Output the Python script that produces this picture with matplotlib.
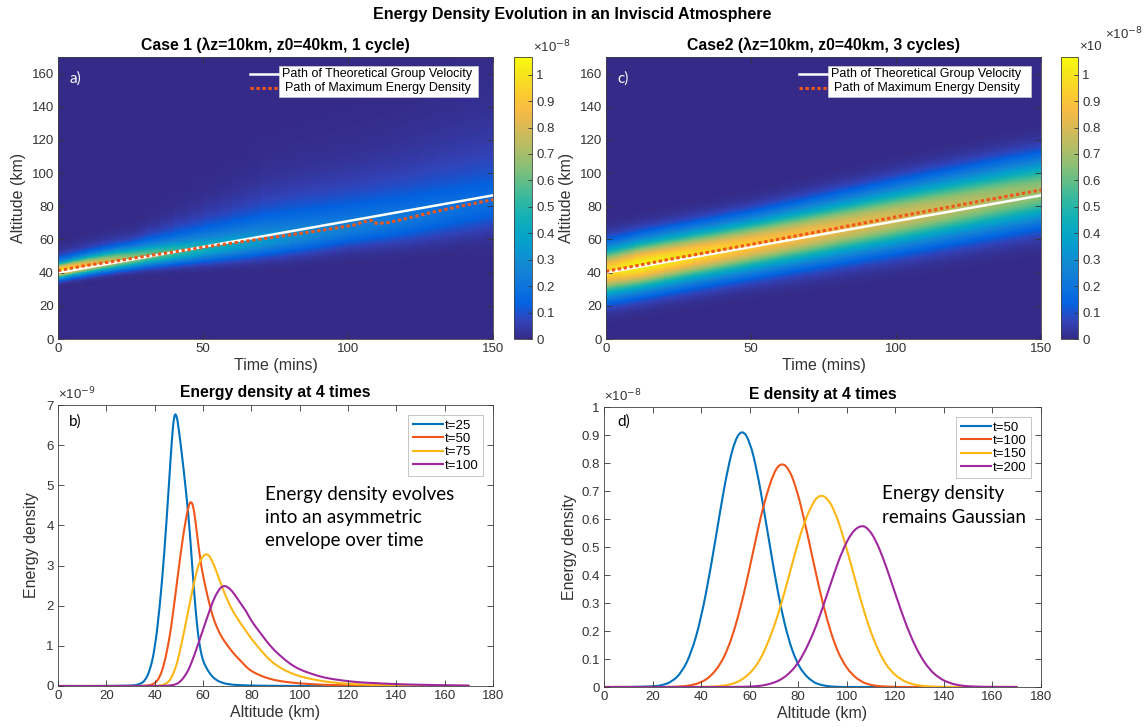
import numpy as np
import matplotlib
matplotlib.use("Agg")
import matplotlib.pyplot as plt
from matplotlib.colors import LinearSegmentedColormap
from matplotlib.patches import Rectangle, PathPatch
from matplotlib.path import Path
from matplotlib.lines import Line2D

# ------------------------------------------------------------------ data
# Panel a (case 1): envelope of the energy density read every 5-10 minutes
c1_time = [0, 5, 10, 15, 20, 25, 30, 40, 50, 60, 70, 80, 90, 100, 110, 120, 130, 140, 150]
c1_center = [41.2, 42.9, 44.4, 45.8, 47.2, 48.3, 49.9, 52.5, 55.1, 57.6, 60.1, 62.6, 65.2, 68.1,
             70.7, 73.5, 77.0, 80.6, 84.2]
c1_peak = [1.05, 0.96, 0.88, 0.81, 0.745, 0.683, 0.635, 0.542, 0.461, 0.407, 0.356, 0.313, 0.28,
           0.251, 0.232, 0.215, 0.2, 0.187, 0.175]
c1_width_low = [3.0, 3.1, 3.2, 3.3, 3.45, 3.57, 3.8, 4.5, 5.2, 5.9, 6.5, 7.0, 7.4, 7.8, 8.6, 9.4,
                10.2, 11.0, 12.0]
c1_width_high = [3.4, 3.9, 4.4, 4.8, 5.1, 5.3, 5.3, 5.2, 5.2, 5.9, 6.8, 7.6, 8.3, 9.0, 9.6, 10.3,
                 11.0, 11.5, 12.0]
c1_tail = [3.0, 3.1, 3.3, 3.5, 3.7, 3.8, 5.0, 7.0, 9.0, 11.0, 13.5, 15.0, 16.0, 17.0, 18.5, 20.0,
           22.0, 23.5, 25.0]

# Panel c (case 2): Gaussian envelope read every 10 minutes
c2_time = [0, 10, 20, 30, 40, 50, 60, 70, 80, 90, 100, 110, 120, 130, 140, 150]
c2_center = [40.8, 44.2, 47.5, 50.7, 53.8, 57.0, 60.3, 63.6, 67.0, 70.3, 73.6, 76.9, 80.2, 83.5,
             86.7, 89.8]
c2_peak = [0.96, 1.05, 1.02, 0.98, 0.95, 0.919, 0.895, 0.87, 0.845, 0.823, 0.801, 0.778, 0.755,
           0.732, 0.71, 0.687]
c2_width = [9.8, 9.9, 10.0, 10.1, 10.25, 10.4, 10.7, 11.0, 11.3, 11.6, 11.9, 12.1, 12.3, 12.5,
            12.65, 12.8]

# Paths drawn on panels a and c
group_time = [0, 150]
group_alt = [40.0, 86.6]
c1_max_time = [0, 10, 20, 30, 40, 50, 60, 70, 80, 90, 100, 103, 105, 108, 109, 113, 116, 120, 130,
               140, 150]
c1_max_alt = [41.2, 44.4, 47.0, 49.9, 52.5, 55.3, 57.8, 60.3, 62.8, 65.3, 68.1, 69.0, 70.6, 71.5,
              69.8, 69.9, 71.0, 72.6, 76.8, 80.5, 84.0]
c2_max_time = [0, 10, 20, 30, 40, 50, 60, 70, 80, 90, 100, 110, 120, 130, 140, 150]
c2_max_alt = [40.8, 44.0, 47.4, 50.6, 53.8, 57.0, 60.3, 63.6, 66.9, 70.3, 73.6, 76.8, 80.1, 83.4,
              86.6, 89.8]

# Panel b: case 1 energy density profiles (units of 1e-9)
b_alt = [0, 10, 20, 30, 32, 34, 36, 38, 40, 42, 44, 46, 47, 48, 49, 50, 52, 54, 55, 56, 57, 58, 59,
         60, 62, 64, 66, 68, 70, 72, 74, 76, 78, 80, 84, 88, 92, 96, 100, 105, 110, 115, 120, 125,
         130, 140, 150, 160, 170]
b_t25 = [0, 0, 0, 0.01, 0.02, 0.05, 0.13, 0.38, 0.9, 1.9, 3.3, 5.1, 6.05, 6.75, 6.78, 6.4, 5.4,
         4.25, 3.45, 2.6, 1.85, 1.25, 0.88, 0.62, 0.38, 0.22, 0.13, 0.08, 0.05, 0.035, 0.025, 0.02,
         0.015, 0.012, 0.008, 0.005, 0.003, 0.002, 0.001, 0, 0, 0, 0, 0, 0, 0, 0, 0, 0]
b_t50 = [0, 0, 0, 0, 0, 0, 0.01, 0.02, 0.06, 0.2, 0.55, 1.15, 1.55, 2.0, 2.48, 2.95, 3.85, 4.5,
         4.61, 4.48, 4.05, 3.55, 3.1, 2.75, 2.2, 1.73, 1.42, 1.19, 1.02, 0.86, 0.72, 0.6, 0.47,
         0.37, 0.25, 0.17, 0.12, 0.09, 0.065, 0.045, 0.03, 0.022, 0.016, 0.012, 0.009, 0.005,
         0.003, 0.002, 0.001]
b_t75 = [0, 0, 0, 0, 0, 0, 0, 0, 0, 0.01, 0.03, 0.12, 0.22, 0.35, 0.52, 0.75, 1.3, 1.9, 2.2, 2.5,
         2.75, 3.0, 3.12, 3.25, 3.3, 3.1, 2.78, 2.45, 2.15, 1.9, 1.7, 1.52, 1.35, 1.18, 0.88, 0.62,
         0.45, 0.33, 0.24, 0.17, 0.115, 0.08, 0.055, 0.04, 0.03, 0.015, 0.008, 0.004, 0.002]
b_t100 = [0, 0, 0, 0, 0, 0, 0, 0, 0, 0, 0.005, 0.01, 0.02, 0.03, 0.05, 0.08, 0.2, 0.4, 0.55, 0.7,
          0.87, 1.05, 1.22, 1.4, 1.75, 2.1, 2.35, 2.5, 2.48, 2.37, 2.2, 2.02, 1.85, 1.62, 1.3,
          0.98, 0.75, 0.55, 0.41, 0.3, 0.21, 0.16, 0.12, 0.09, 0.075, 0.045, 0.03, 0.02, 0.01]
b_labels = ["t=25", "t=50", "t=75", "t=100"]

# Panel d: case 2 energy density profiles (units of 1e-8)
d_alt = [0, 10, 20, 24, 28, 32, 36, 40, 44, 48, 51, 54, 57, 60, 63, 66, 70, 73, 76, 79, 82, 86, 89,
         92, 95, 98, 102, 106, 109, 112, 115, 118, 122, 126, 130, 134, 138, 142, 146, 150, 155,
         160, 170]
d_t50 = [0, 0, 0.002, 0.006, 0.019, 0.052, 0.122, 0.245, 0.426, 0.637, 0.782, 0.884, 0.919, 0.879,
         0.774, 0.627, 0.416, 0.277, 0.17, 0.096, 0.05, 0.018, 0.008, 0.003, 0.001, 0, 0, 0, 0, 0,
         0, 0, 0, 0, 0, 0, 0, 0, 0, 0, 0, 0, 0]
d_t100 = [0, 0, 0, 0, 0.0005, 0.002, 0.006, 0.016, 0.038, 0.082, 0.136, 0.212, 0.31, 0.425, 0.547,
          0.66, 0.769, 0.801, 0.782, 0.717, 0.617, 0.457, 0.339, 0.236, 0.154, 0.094, 0.045, 0.019,
          0.009, 0.004, 0.002, 0.001, 0, 0, 0, 0, 0, 0, 0, 0, 0, 0, 0]
d_t150 = [0, 0, 0, 0, 0, 0, 0, 0.0004, 0.001, 0.0035, 0.007, 0.014, 0.027, 0.048, 0.079, 0.126,
          0.213, 0.296, 0.391, 0.488, 0.576, 0.66, 0.687, 0.675, 0.629, 0.554, 0.43, 0.302, 0.218,
          0.149, 0.096, 0.058, 0.028, 0.012, 0.005, 0.0017, 0.0006, 0, 0, 0, 0, 0, 0]
d_t200 = [0, 0, 0, 0, 0, 0, 0, 0, 0, 0, 0.0001, 0.0003, 0.0007, 0.0015, 0.003, 0.006, 0.015, 0.027,
          0.046, 0.074, 0.114, 0.187, 0.256, 0.333, 0.411, 0.483, 0.553, 0.579, 0.565, 0.523, 0.46,
          0.385, 0.281, 0.187, 0.114, 0.063, 0.032, 0.015, 0.006, 0.0024, 0.0007, 0.0002, 0]
d_labels = ["t=50", "t=100", "t=150", "t=200"]

CB_MAX = 1.067

# ------------------------------------------------------------------ style
parula_rows = [
    [0.2081, 0.1663, 0.5292], [0.1959, 0.2645, 0.7279], [0.0117, 0.3875, 0.8820],
    [0.0498, 0.4586, 0.8641], [0.0793, 0.5200, 0.8312], [0.0343, 0.5966, 0.8199],
    [0.0228, 0.6535, 0.7768], [0.0843, 0.6928, 0.7062], [0.2178, 0.7250, 0.6193],
    [0.3953, 0.7459, 0.5244], [0.5709, 0.7485, 0.4494], [0.7184, 0.7411, 0.3905],
    [0.8507, 0.7299, 0.3360], [0.9739, 0.7314, 0.2666], [0.9880, 0.8066, 0.1794],
    [0.9589, 0.8949, 0.1132], [0.9763, 0.9831, 0.0538]]
parula = LinearSegmentedColormap.from_list("parula", parula_rows, N=256)

LINE_COLORS = ["#0072BD", "#F0561A", "#FDB714", "#A0289E"]
ORANGE = "#F0561A"
AX_GRAY = "#333333"
SANS = ["Liberation Sans", "DejaVu Sans"]
HUMAN = ["Lato", "DejaVu Sans"]

plt.rcParams["font.family"] = SANS
plt.rcParams["font.size"] = 9.5
plt.rcParams["axes.edgecolor"] = "#404040"
plt.rcParams["axes.linewidth"] = 0.6
plt.rcParams["xtick.color"] = AX_GRAY
plt.rcParams["ytick.color"] = AX_GRAY
plt.rcParams["axes.labelcolor"] = AX_GRAY


def skewed_profile(d, a, s_lo, s_hi, lam):
    """Envelope at offset d from its maximum (lower Gaussian, upper Gaussian core + tail)."""
    d0 = s_hi ** 2 / lam
    low = a * np.exp(-d ** 2 / (2 * s_lo ** 2))
    core = a * np.exp(-d ** 2 / (2 * s_hi ** 2))
    tail = a * np.exp(-d0 ** 2 / (2 * s_hi ** 2) - (d - d0) / lam)
    return np.where(d < 0, low, np.where(d <= d0, core, tail))


def gauss_profile(d, a, s):
    return a * np.exp(-d ** 2 / (2 * s ** 2))


def style_axes(ax):
    ax.tick_params(direction="in", top=True, right=True, length=4, width=0.6,
                   labelsize=9.5, pad=3)
    for s in ax.spines.values():
        s.set_color("#404040")


def smooth_curve(ax, x, y, color):
    """Draw the read points as a smooth quadratic Bezier path."""
    p = np.column_stack([x, y]).astype(float)
    mids = (p[:-1] + p[1:]) / 2
    verts = [p[0], mids[0]]
    codes = [Path.MOVETO, Path.LINETO]
    for i in range(1, len(p) - 1):
        verts += [p[i], mids[i]]
        codes += [Path.CURVE3, Path.CURVE3]
    verts.append(p[-1])
    codes.append(Path.LINETO)
    ax.add_patch(PathPatch(Path(verts, codes), facecolor="none", edgecolor=color, lw=1.5,
                           joinstyle="round", capstyle="round"))
    return Line2D([], [], color=color, lw=1.5)


W, H = 1144, 727
fig = plt.figure(figsize=(W / 100, H / 100), dpi=100)


def fax(x0, y0, x1, y1):
    return fig.add_axes([x0 / W, 1 - y1 / H, (x1 - x0) / W, (y1 - y0) / H])


ax_a = fax(58, 57, 493, 339)
cax_a = fax(514, 57, 532, 339)
ax_c = fax(606, 57, 1041, 339)
cax_c = fax(1061, 57, 1078, 339)
ax_b = fax(58, 405, 493, 686)
ax_d = fax(604, 407, 1041, 687)

# mesh that follows the packet: rows are offsets from the envelope maximum
offsets = np.linspace(-100, 140, 961)
col1 = np.column_stack([skewed_profile(offsets, *p) for p in
                        zip(c1_peak, c1_width_low, c1_width_high, c1_tail)])
col2 = np.column_stack([gauss_profile(offsets, *p) for p in zip(c2_peak, c2_width)])


def heat_panel(ax, cax, t, centers, field, max_t, max_z, title, tag, box):
    tt = np.asarray(t, float)
    X = np.tile(tt, (len(offsets), 1))
    Y = np.asarray(centers, float)[None, :] + offsets[:, None]
    ax.set_facecolor(parula(0.0))
    m = ax.pcolormesh(X, Y, field, shading="gouraud", cmap=parula, vmin=0, vmax=CB_MAX,
                      rasterized=True)
    ax.plot(group_time, group_alt, color="white", lw=1.8)
    ax.plot(max_t, max_z, color=ORANGE, lw=2.2, linestyle=(0, (1.1, 0.85)),
            dash_capstyle="butt")
    ax.set_xlim(0, 150)
    ax.set_ylim(0, 170)
    ax.set_xticks([0, 50, 100, 150])
    ax.set_yticks(np.arange(0, 161, 20))
    style_axes(ax)
    ax.set_xlabel("Time (mins)", fontsize=11.5, labelpad=2)
    ax.set_ylabel("Altitude (km)", fontsize=11.5, labelpad=4)
    ax.set_title(title, fontsize=11.3, fontweight="bold", pad=5, color="black")
    ax.text(4.0, 157, tag, color="white", fontsize=11, family=HUMAN, va="center")
    # legend drawn like the original (line samples left of the white box)
    bx0, bx1 = box
    ax.add_patch(Rectangle((bx0, 0.857), bx1 - bx0, 0.112, transform=ax.transAxes,
                           facecolor="white", edgecolor="#cccccc", lw=0.5, zorder=5))
    ax.plot([bx0 - 0.068, bx0 - 0.004], [0.941, 0.941], color="white", lw=1.8,
            transform=ax.transAxes, zorder=6)
    ax.plot([bx0 - 0.068, bx0 - 0.004], [0.89, 0.89], color=ORANGE, lw=2.2,
            linestyle=(0, (1.1, 0.85)), transform=ax.transAxes, zorder=6)
    ax.text(bx0 + 0.006, 0.941, "Path of Theoretical Group Velocity", transform=ax.transAxes,
            fontsize=9, va="center", ha="left", color="black", zorder=7)
    ax.text(bx0 + 0.012, 0.89, "Path of Maximum Energy Density", transform=ax.transAxes,
            fontsize=9, va="center", ha="left", color="black", zorder=7)
    cb = fig.colorbar(m, cax=cax, ticks=np.round(np.arange(0, 1.01, 0.1), 1))
    cb.ax.set_yticklabels(["0"] + ["%.1f" % v for v in np.arange(0.1, 0.95, 0.1)] + ["1"])
    cb.ax.tick_params(direction="in", length=3, width=0.6, labelsize=9.5, color=AX_GRAY,
                      pad=3)
    cb.outline.set_edgecolor("#404040")
    cb.outline.set_linewidth(0.6)
    return m


heat_panel(ax_a, cax_a, c1_time, c1_center, col1, c1_max_time, c1_max_alt,
           "Case 1 (\u03bbz=10km, z0=40km, 1 cycle)", "a)", (0.509, 0.965))
heat_panel(ax_c, cax_c, c2_time, c2_center, col2, c2_max_time, c2_max_alt,
           "Case2 (\u03bbz=10km, z0=40km, 3 cycles)", "c)", (0.511, 0.978))

fig.text(533 / W, 1 - 47 / H, "\u00d710$^{-8}$", fontsize=9.5, color=AX_GRAY, va="center",
         ha="left")
fig.text(1079 / W, 1 - 47 / H, "\u00d710", fontsize=9.5, color=AX_GRAY, va="center", ha="left")
fig.text(1105 / W, 1 - 34 / H, "\u00d710$^{-8}$", fontsize=9.5, color=AX_GRAY, va="center",
         ha="left")

# ---- line panels
handles_b = [smooth_curve(ax_b, b_alt, y, col)
             for y, col in zip([b_t25, b_t50, b_t75, b_t100], LINE_COLORS)]
ax_b.set_xlim(0, 180)
ax_b.set_ylim(0, 7)
ax_b.set_xticks(np.arange(0, 181, 20))
ax_b.set_yticks(np.arange(0, 8, 1))
style_axes(ax_b)
ax_b.set_xlabel("Altitude (km)", fontsize=11.5, labelpad=2)
ax_b.set_ylabel("Energy density", fontsize=11.5, labelpad=5)
ax_b.set_title("Energy density at 4 times", fontsize=11.3, fontweight="bold", pad=6)
ax_b.text(0, 1.008, "\u00d710$^{-9}$", transform=ax_b.transAxes, fontsize=9.5, color=AX_GRAY,
          ha="left", va="bottom")
ax_b.text(4.4, 6.58, "b)", fontsize=11, family=HUMAN, va="center")
ax_b.text(85.5, 4.2, "Energy density evolves\ninto an asymmetric\nenvelope over time",
          fontsize=13.5, family=HUMAN, va="center", ha="left", linespacing=1.45)
lb = ax_b.legend(handles_b, b_labels, loc="upper right", fontsize=9.5, handlelength=2.3,
                 handletextpad=0.1, labelspacing=0.08, borderpad=0.35, borderaxespad=0.75,
                 fancybox=False, framealpha=1)
lb.get_frame().set_edgecolor("#bbbbbb")
lb.get_frame().set_linewidth(0.6)

handles_d = [smooth_curve(ax_d, d_alt, y, col)
             for y, col in zip([d_t50, d_t100, d_t150, d_t200], LINE_COLORS)]
ax_d.set_xlim(0, 180)
ax_d.set_ylim(0, 1)
ax_d.set_xticks(np.arange(0, 181, 20))
ax_d.set_yticks(np.round(np.arange(0, 1.01, 0.1), 1))
ax_d.set_yticklabels(["0"] + ["%.1f" % v for v in np.arange(0.1, 0.95, 0.1)] + ["1"])
style_axes(ax_d)
ax_d.set_xlabel("Altitude (km)", fontsize=11.5, labelpad=2)
ax_d.set_ylabel("Energy density", fontsize=11.5, labelpad=3)
ax_d.set_title("E density at 4 times", fontsize=11.3, fontweight="bold", pad=6)
ax_d.text(0, 1.008, "\u00d710$^{-8}$", transform=ax_d.transAxes, fontsize=9.5, color=AX_GRAY,
          ha="left", va="bottom")
ax_d.text(5.4, 0.947, "d)", fontsize=11, family=HUMAN, va="center")
ax_d.text(114.7, 0.648, "Energy density\nremains Gaussian", fontsize=13.5, family=HUMAN,
          va="center", ha="left", linespacing=1.45)
ld = ax_d.legend(handles_d, d_labels, loc="upper right", fontsize=9.5, handlelength=2.3,
                 handletextpad=0.1, labelspacing=0.08, borderpad=0.35, borderaxespad=0.75,
                 fancybox=False, framealpha=1)
ld.get_frame().set_edgecolor("#bbbbbb")
ld.get_frame().set_linewidth(0.6)

fig.suptitle("Energy Density Evolution in an Inviscid Atmosphere", fontsize=11.5,
             fontweight="bold", y=1 - 14 / H, va="center")

fig.savefig("out.png", dpi=100)
